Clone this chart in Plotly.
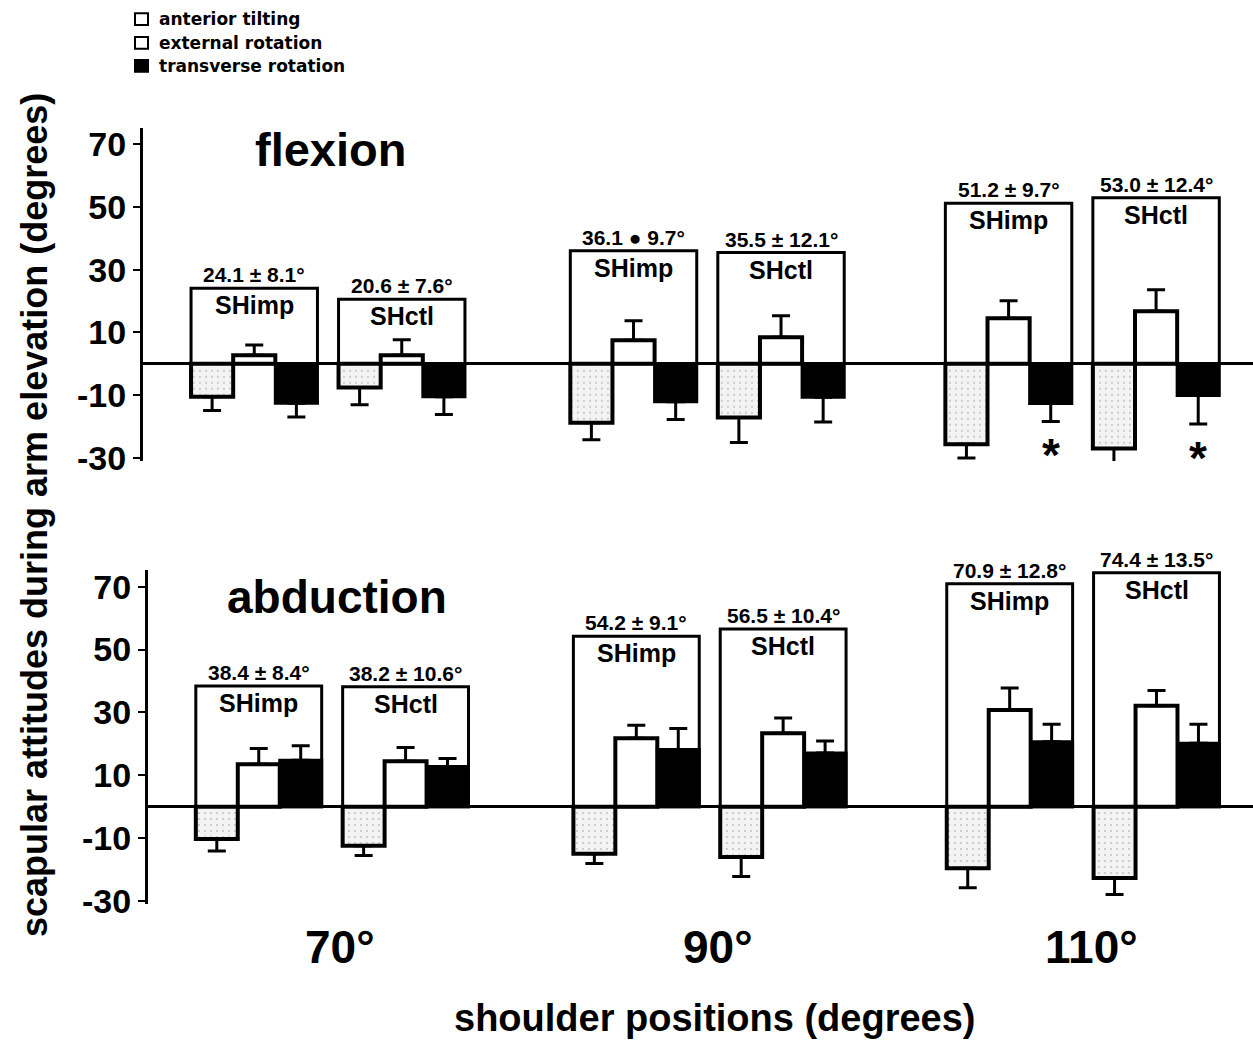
import plotly.graph_objects as go

# ---- data -------------------------------------------------------------
groups = ["SHimp", "SHctl", "SHimp", "SHctl", "SHimp", "SHctl"]
positions = ["70°", "90°", "110°"]
series = ["anterior tilting", "external rotation", "transverse rotation"]

# flexion: scapular attitudes (mean, SD) per group
flex_at = [-10.5, -7.6, -18.8, -17.1, -25.7, -27.0]
flex_at_sd = [4.4, 5.5, 5.4, 8.0, 4.4, 6.8]
flex_er = [2.7, 2.7, 7.5, 8.5, 14.5, 16.8]
flex_er_sd = [3.3, 5.0, 6.2, 6.8, 5.6, 6.8]
flex_tr = [-12.6, -10.5, -12.1, -10.7, -12.7, -10.1]
flex_tr_sd = [4.4, 5.7, 5.7, 7.9, 5.7, 9.1]
flex_elev = [24.1, 20.6, 36.1, 35.5, 51.2, 53.0]
flex_elev_sd = [8.1, 7.6, 9.7, 12.1, 9.7, 12.4]
flex_sep = ["±", "±", "●", "±", "±", "±"]
flex_sig = [False, False, False, False, True, True]

# abduction
abd_at = [-10.3, -12.4, -15.0, -16.0, -19.6, -22.7]
abd_at_sd = [3.8, 3.1, 3.1, 6.2, 6.2, 5.2]
abd_er = [13.5, 14.5, 21.8, 23.4, 30.8, 32.1]
abd_er_sd = [5.0, 4.3, 4.1, 4.8, 7.0, 4.9]
abd_tr = [14.8, 12.8, 18.2, 17.1, 20.7, 20.2]
abd_tr_sd = [4.6, 2.5, 6.7, 3.8, 5.5, 6.0]
abd_elev = [38.4, 38.2, 54.2, 56.5, 70.9, 74.4]
abd_elev_sd = [8.4, 10.6, 9.1, 10.4, 12.8, 13.5]
abd_sep = ["±", "±", "±", "±", "±", "±"]
abd_sig = [False] * 6

yticks = [-30, -10, 10, 30, 50, 70]

# ---- layout helpers -----------------------------------------------------
W, H = 1253, 1043
FONT = "Liberation Sans, Arial, Helvetica, sans-serif"


def px_x(p):
    return p / W


def px_y(p):
    return 1 - p / H


# first-bar position of each group (bar units)
pair_base = [0.0, 9.0, 17.9]
group_start = []
for b in pair_base:
    group_start += [b, b + 3.5]

fig = go.Figure()


def one_sided(vals, sds):
    up = [s if v >= 0 else 0 for v, s in zip(vals, sds)]
    dn = [s if v < 0 else 0 for v, s in zip(vals, sds)]
    return dict(type="data", symmetric=False, array=up, arrayminus=dn,
                color="black", thickness=3, width=9)


def add_panel(xa, ya, at, at_sd, er, er_sd, tr, tr_sd, elev, elev_sd, sep, sig):
    # humeral elevation frames
    fig.add_trace(go.Bar(
        x=[s + 1 for s in group_start], y=elev, base=0, width=3,
        marker=dict(color="rgba(0,0,0,0)", line=dict(color="black", width=3)),
        xaxis=xa, yaxis=ya, showlegend=False, hoverinfo="skip"))
    fig.add_trace(go.Bar(
        x=[s for s in group_start], y=at, width=1, name=series[0],
        marker=dict(color="#f3f3f3", line=dict(color="black", width=4),
                    pattern=dict(shape=".", fgcolor="#8a8a8a", bgcolor="#f3f3f3",
                                 size=6, solidity=0.08)),
        error_y=one_sided(at, at_sd), xaxis=xa, yaxis=ya, showlegend=False))
    fig.add_trace(go.Bar(
        x=[s + 1 for s in group_start], y=er, width=1, name=series[1],
        marker=dict(color="white", line=dict(color="black", width=4)),
        error_y=one_sided(er, er_sd), xaxis=xa, yaxis=ya, showlegend=False))
    fig.add_trace(go.Bar(
        x=[s + 2 for s in group_start], y=tr, width=1, name=series[2],
        marker=dict(color="black", line=dict(color="black", width=3)),
        error_y=one_sided(tr, tr_sd), xaxis=xa, yaxis=ya, showlegend=False))

    for i, s in enumerate(group_start):
        fig.add_annotation(
            x=s + 1, y=elev[i], xref=xa, yref=ya, xanchor="center",
            yanchor="bottom", yshift=0,
            text=f"<b>{elev[i]:.1f} {sep[i]} {elev_sd[i]:.1f}°</b>",
            showarrow=False, font=dict(family=FONT, size=21, color="black"))
        fig.add_annotation(
            x=s + 1, y=elev[i], xref=xa, yref=ya, xanchor="center",
            yanchor="top", yshift=-1,
            text=f"<b>{groups[i]}</b>", showarrow=False,
            font=dict(family=FONT, size=25, color="black"))
        if sig[i]:
            fig.add_annotation(
                x=s + 2, y=tr[i] - tr_sd[i], xref=xa, yref=ya, xanchor="center",
                yanchor="top", yshift=-6, text="<b>*</b>", showarrow=False,
                font=dict(family=FONT, size=46, color="black"))


add_panel("x", "y", flex_at, flex_at_sd, flex_er, flex_er_sd, flex_tr, flex_tr_sd,
          flex_elev, flex_elev_sd, flex_sep, flex_sig)
add_panel("x2", "y2", abd_at, abd_at_sd, abd_er, abd_er_sd, abd_tr, abd_tr_sd,
          abd_elev, abd_elev_sd, abd_sep, abd_sig)

xrange = [-1.64, 24.7]
yrange = [-31, 75.3]

yaxis_style = dict(
    range=yrange, showgrid=False, showline=True, linecolor="black", linewidth=3,
    ticks="outside", ticklen=7, tickwidth=2, tickcolor="black",
    tickvals=yticks, ticktext=[f"<b>{v}</b>" for v in yticks],
    tickfont=dict(family=FONT, size=34, color="black"),
    zeroline=True, zerolinecolor="black", zerolinewidth=3, fixedrange=True)
xaxis_style = dict(range=xrange, showgrid=False, showline=False, zeroline=False,
                   showticklabels=False, ticks="", fixedrange=True)

fig.update_layout(
    width=W, height=H, margin=dict(l=0, r=0, t=0, b=0),
    paper_bgcolor="white", plot_bgcolor="white",
    barmode="overlay", showlegend=False,
    xaxis=dict(domain=[px_x(143), 1], anchor="y", **xaxis_style),
    yaxis=dict(domain=[px_y(467), px_y(128)], anchor="x", **yaxis_style),
    xaxis2=dict(domain=[px_x(148), 1], anchor="y2", **xaxis_style),
    yaxis2=dict(domain=[px_y(918), px_y(578)], anchor="x2", **yaxis_style),
)


def paper_text(x, y, text, size, angle=0, xanchor="center", family=FONT):
    fig.add_annotation(x=px_x(x), y=px_y(y), xref="paper", yref="paper",
                       xanchor=xanchor, yanchor="middle", text=text,
                       textangle=angle, showarrow=False,
                       font=dict(family=family, size=size, color="black"))


# panel titles
paper_text(330, 150, "<b>flexion</b>", 47)
paper_text(337, 605, "<b>abduction</b>", 46)

# shoulder position labels under each pair of groups
for k, lab in enumerate(positions):
    fig.add_annotation(x=pair_base[k] + 2.75, y=px_y(962), xref="x2", yref="paper",
                       xanchor="center", yanchor="middle", xshift=8,
                       text=f"<b>{lab}</b>", showarrow=False,
                       font=dict(family=FONT, size=46, color="black"))

# axis titles
paper_text(715, 1034, "<b>shoulder positions (degrees)</b>", 38)
paper_text(35, 522, "<b>scapular attitudes during arm elevation (degrees)</b>", 36,
           angle=-90)

# legend keys
legend_rows = [17.5, 41.5, 65.0]
legend_fill = ["white", "white", "black"]
for name, yc, fc in zip(series, legend_rows, legend_fill):
    fig.add_shape(type="rect", xref="paper", yref="paper",
                  x0=px_x(135), x1=px_x(148), y0=px_y(yc + 6), y1=px_y(yc - 6),
                  line=dict(color="black", width=2), fillcolor=fc)
    paper_text(157, yc, f"<b>{name}</b>", 17, xanchor="left",
               family="DejaVu Sans, sans-serif")

fig.write_html("out.html")
